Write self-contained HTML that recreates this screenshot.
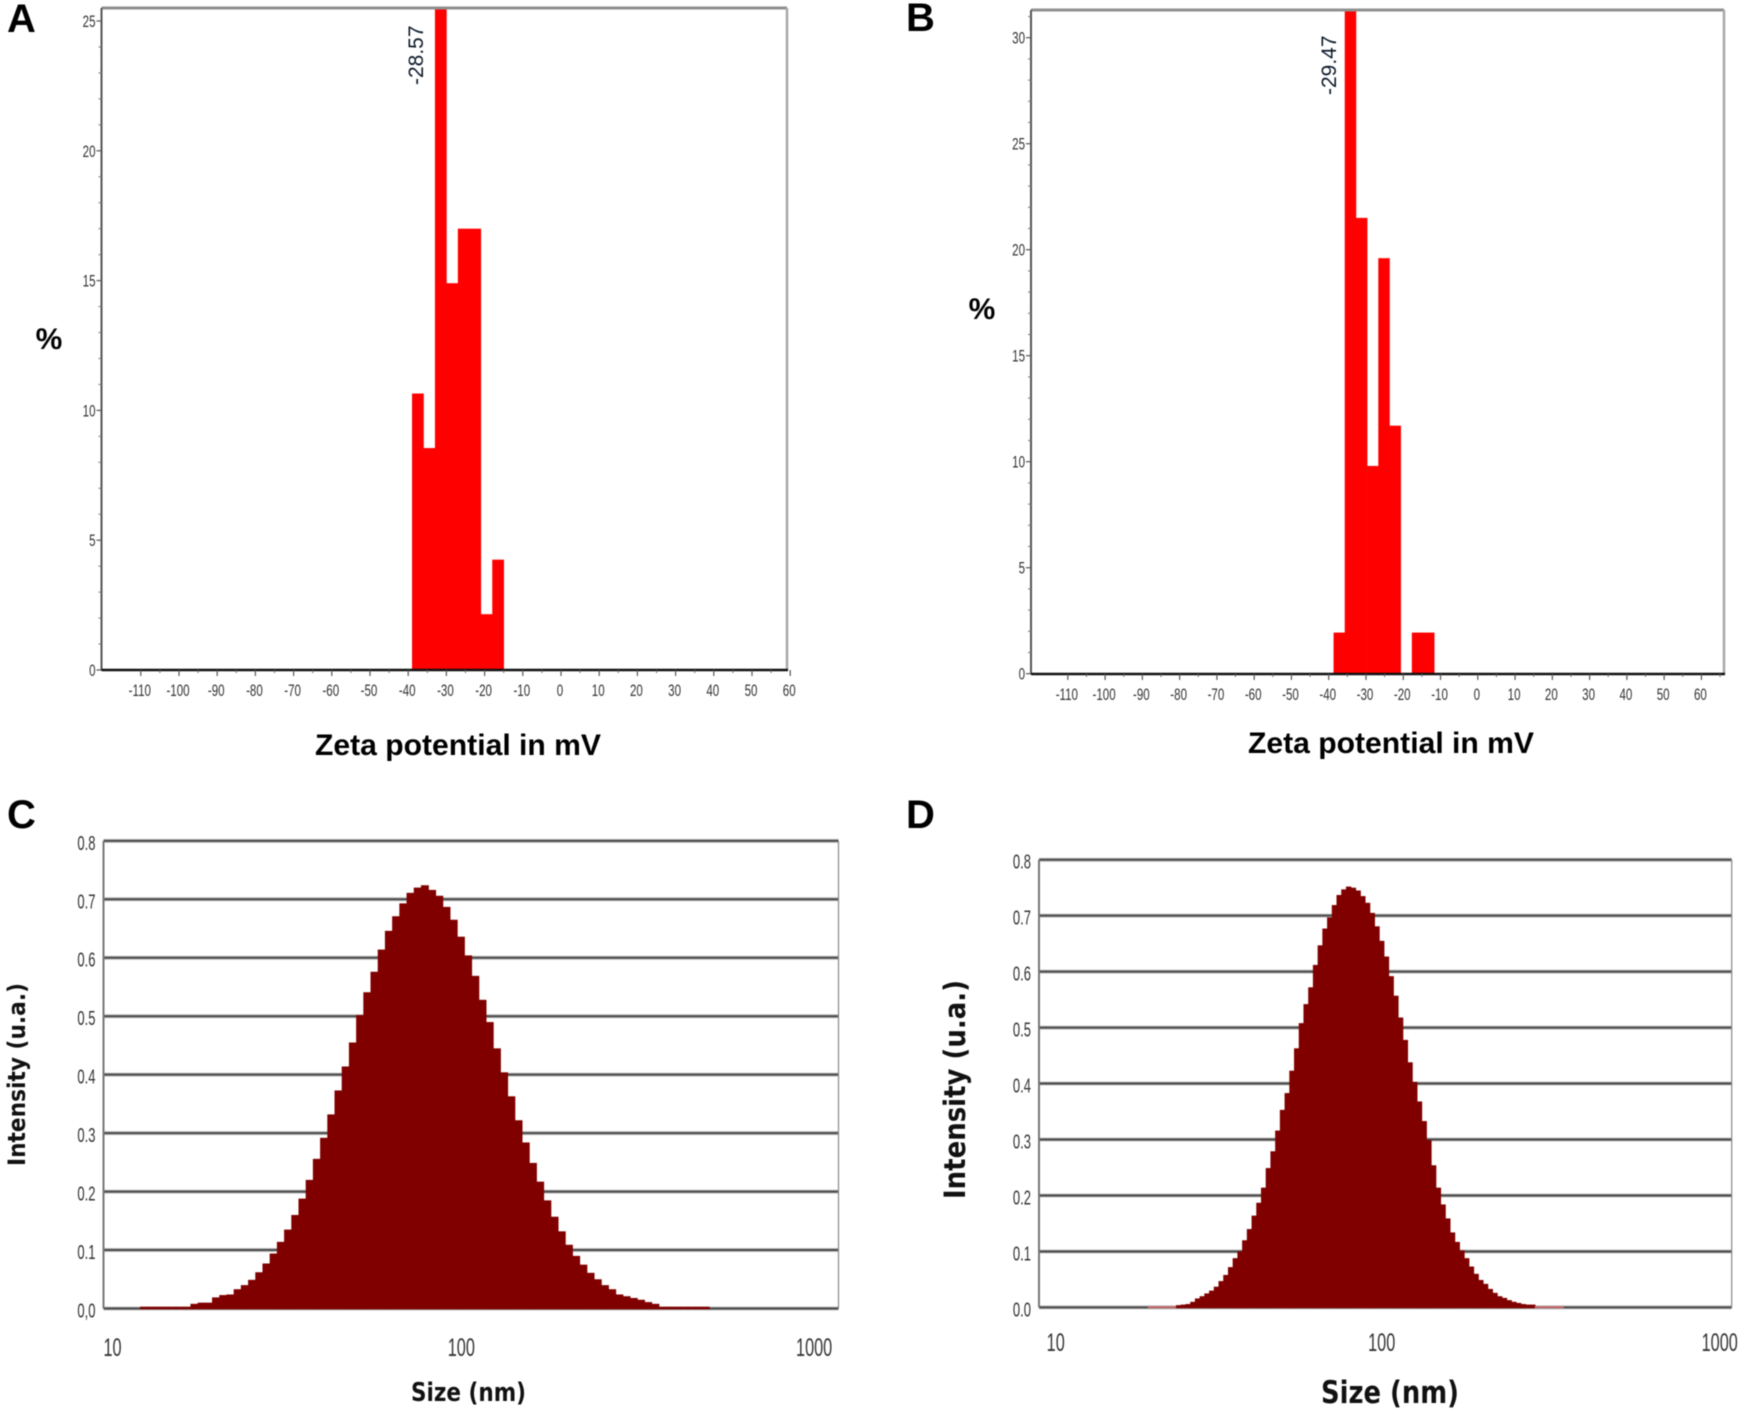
<!DOCTYPE html>
<html lang="en">
<head>
<meta charset="utf-8">
<title>Zeta potential and size distributions</title>
<style>
html,body{margin:0;padding:0;background:#fff;}
#figure{display:block;width:1745px;height:1415px;filter:blur(0.6px);}
text{font-family:"Liberation Sans",sans-serif;}
.panel{font-weight:bold;font-size:40px;fill:#000;}
.title{font-weight:bold;font-size:30px;fill:#000;}
.wide{font-family:"DejaVu Sans","Liberation Sans",sans-serif;font-weight:bold;fill:#111;}
.peak{font-size:21px;fill:#0c1a2a;}
</style>
</head>
<body>
<svg id="figure" xmlns="http://www.w3.org/2000/svg" width="1745" height="1415" viewBox="0 0 1745 1415">
<rect x="0" y="0" width="1745" height="1415" fill="#fff"/>
<g id="chartA"></g>
<g id="chartB"></g>
<g id="chartC"></g>
<g id="chartD"></g>

<text class="panel" x="7" y="32">A</text>
<text class="panel" x="906" y="31">B</text>
<text class="panel" x="7" y="828">C</text>
<text class="panel" x="906" y="828">D</text>

<text class="title" x="315" y="755" textLength="286" lengthAdjust="spacingAndGlyphs">Zeta potential in mV</text>
<text class="title" x="1248" y="753" textLength="286" lengthAdjust="spacingAndGlyphs">Zeta potential in mV</text>
<text class="title" x="49" y="349" text-anchor="middle">%</text>
<text class="title" x="982" y="319" text-anchor="middle">%</text>

<text class="peak" transform="translate(423,85) rotate(-90)">-28.57</text>
<text class="peak" transform="translate(1336,95) rotate(-90)">-29.47</text>

<text class="wide" font-size="24" transform="translate(25,1166) rotate(-90)" textLength="183" lengthAdjust="spacingAndGlyphs">Intensity (u.a.)</text>
<text class="wide" font-size="29" transform="translate(965,1199) rotate(-90)" textLength="219" lengthAdjust="spacingAndGlyphs">Intensity (u.a.)</text>
<text class="wide" font-size="26" x="411" y="1401" textLength="115" lengthAdjust="spacingAndGlyphs">Size (nm)</text>
<text class="wide" font-size="31" x="1321" y="1403" textLength="138" lengthAdjust="spacingAndGlyphs">Size (nm)</text>
</svg>

<script>
const zetaTicks = [-110,-100,-90,-80,-70,-60,-50,-40,-30,-20,-10,0,10,20,30,40,50,60];
const percentTicksA = [0,5,10,15,20,25];
const percentTicksB = [0,5,10,15,20,25,30];
const binStartsA = [-39,-36,-33,-30,-27,-24,-21,-18];
const percentValuesA = [10.65,8.55,26,14.9,17,17,2.15,4.25];
const binStartsB = [-38.7,-35.7,-32.7,-29.7,-26.7,-23.7,-20.7,-17.7,-14.7];
const percentValuesB = [1.94,32,21.5,9.8,19.6,11.7,0,1.94,1.94];

const intensityTicks = [0,0.1,0.2,0.3,0.4,0.5,0.6,0.7,0.8];
const intensityTickLabelsC = ['0,0','0.1','0.2','0.3','0.4','0.5','0.6','0.7','0.8'];
const intensityTickLabelsD = ['0.0','0.1','0.2','0.3','0.4','0.5','0.6','0.7','0.8'];
const sizeTicks = [10,100,1000];
const sizeTickLabels = ['10','100','1000'];
const intensityValuesC = [
  0.003,0.003,0.003,0.003,0.003,0.003,0.003,
  0.008,0.01,0.01,0.019,0.023,0.024,0.033,0.04,0.049,0.062,0.077,0.094,0.114,0.135,0.16,0.188,
  0.22,0.256,0.292,0.332,0.373,0.414,0.455,0.502,0.541,0.576,0.614,0.646,0.671,0.693,0.711,0.72,
  0.724,0.716,0.706,0.687,0.665,0.636,0.604,0.569,0.528,0.49,0.445,0.404,0.363,0.322,0.284,0.249,
  0.217,0.185,0.157,0.132,0.109,0.09,0.075,0.061,0.05,0.04,0.033,0.024,0.021,0.018,0.015,0.011,0.008,
  0.003,0.003,0.003,0.003,0.003,0.003,0.003
];
const intensityValuesD = [
  0.002,0.002,0.002,0.002,0.002,0.002,
  0.004,0.005,0.006,0.01,0.016,0.02,0.025,0.03,0.037,0.047,0.058,0.072,0.088,0.1,
  0.12,0.14,0.164,0.187,0.214,0.249,0.279,0.316,0.353,0.383,0.423,0.463,0.508,0.542,0.572,0.612,
  0.647,0.677,0.697,0.719,0.737,0.747,0.752,0.75,0.745,0.735,0.723,0.705,0.681,0.655,0.627,0.592,
  0.557,0.518,0.478,0.438,0.403,0.368,0.333,0.299,0.254,0.214,0.184,0.159,0.134,0.117,0.102,0.088,
  0.073,0.06,0.049,0.042,0.033,0.026,0.02,0.017,0.013,0.01,0.008,0.006,0.005,0.005,
  0.002,0.002,0.002,0.002,0.002,0.002
];
const firstBinNmC = 11.98;
const binsPerDecadeC = 48.7;
const firstBinNmD = 18.93;
const binsPerDecadeD = 70.34;
const zetaBinWidth = 3;

const SVGNS = 'http://www.w3.org/2000/svg';
function make(parent, tag, attrs, content) {
  const el = document.createElementNS(SVGNS, tag);
  for (const k in attrs) el.setAttribute(k, attrs[k]);
  if (content !== undefined) el.textContent = content;
  parent.appendChild(el);
  return el;
}
function tickLabel(parent, x, y, str, size, sx, anchor) {
  return make(parent, 'text', {
    transform: 'translate(' + x + ',' + y + ') scale(' + sx + ',1)',
    'font-size': size, fill: '#333', 'text-anchor': anchor
  }, str);
}

function drawZeta(root, box, xOf, yOf, ticks, bins, values, clipId) {
  const defs = make(root, 'defs', {});
  const clip = make(defs, 'clipPath', {id: clipId});
  make(clip, 'rect', {x: box.l, y: box.t, width: box.r - box.l, height: box.b - box.t});

  const plot = make(root, 'g', {'clip-path': 'url(#' + clipId + ')'});
  
  
  bins.forEach(function (start, i) {
    const x0 = xOf(start), x1 = xOf(start + zetaBinWidth), yTop = yOf(values[i]);
    const bar = make(plot, 'rect', {x: x0, y: yTop, width: x1 - x0 + 0.3, height: Math.max(0, box.b - yTop), fill: '#ff0000'});
    
    
  });

  const top = make(root, 'line', {x1: box.l, x2: box.r, y1: box.t, y2: box.t, stroke: '#8f8f8f', 'stroke-width': 3});
  
  
  const right = make(root, 'line', {x1: box.r, x2: box.r, y1: box.t, y2: box.b, stroke: '#a8a8a8', 'stroke-width': 2.5});
  
  
  const left = make(root, 'line', {x1: box.l, x2: box.l, y1: box.t, y2: box.b, stroke: '#555', 'stroke-width': 2});
  
  
  const bottom = make(root, 'line', {x1: box.l, x2: box.r + 1, y1: box.b, y2: box.b, stroke: '#111', 'stroke-width': 2.6});
  
  

  ticks.forEach(function (t) {
    const x = xOf(t);
    const mark = make(root, 'line', {x1: x, x2: x, y1: box.b, y2: box.b + 6, stroke: '#555', 'stroke-width': 1.2});
    
    
    const minorX = xOf(t + 5);
    if (minorX < box.r) {
      const minor = make(root, 'line', {x1: minorX, x2: minorX, y1: box.b, y2: box.b + 3, stroke: '#666', 'stroke-width': 1});
      
      
    }
    const lab = tickLabel(root, x - 1, box.b + 26, String(t), 17, 0.68, 'middle');
    
    
  });
}

function drawPercentAxis(root, box, yOf, ticks) {
  ticks.forEach(function (t) {
    const y = yOf(t);
    const mark = make(root, 'line', {x1: box.l - 5, x2: box.l, y1: y, y2: y, stroke: '#555', 'stroke-width': 1.2});
    
    
    for (let m = 1; m < 5; m++) {
      const my = yOf(t + m);
      if (my > box.t) {
        const minor = make(root, 'line', {x1: box.l - 3, x2: box.l, y1: my, y2: my, stroke: '#777', 'stroke-width': 1});
        
        
      }
    }
    const lab = tickLabel(root, box.l - 6, y + 6, String(t), 17, 0.68, 'end');
    
    
  });
}

function drawSize(root, box, xOf, yOf, yTickLabels, values, firstBinNm, binsPerDecade, labelShift) {
  intensityTicks.forEach(function (t, i) {
    const y = yOf(t);
    const halo = make(root, 'line', {x1: box.l, x2: box.r, y1: y, y2: y, stroke: '#bdbdbd', 'stroke-width': 4});
    
    
    const grid = make(root, 'line', {x1: box.l, x2: box.r, y1: y, y2: y, stroke: '#4a4a4a', 'stroke-width': 2});
    
    
    const lab = tickLabel(root, box.l - 8, y + 9, yTickLabels[i], 20, 0.65, 'end');
    
    
  });
  const left = make(root, 'line', {x1: box.l, x2: box.l, y1: box.t, y2: box.b, stroke: '#777', 'stroke-width': 2});
  
  
  const right = make(root, 'line', {x1: box.r, x2: box.r, y1: box.t, y2: box.b, stroke: '#888', 'stroke-width': 1.2});
  
  

  const group = make(root, 'g', {});
  
  
  values.forEach(function (v, i) {
    const s0 = firstBinNm * Math.pow(10, i / binsPerDecade);
    const s1 = firstBinNm * Math.pow(10, (i + 1) / binsPerDecade);
    const x0 = xOf(s0), x1 = xOf(s1), yTop = yOf(v);
    const bar = make(group, 'rect', {x: x0, y: yTop, width: x1 - x0 + 0.7, height: yOf(0) - yTop + 0.8, fill: v < 0.0025 ? '#c8686a' : '#800000'});
    
    
  });

  sizeTicks.forEach(function (t, i) {
    const lab = tickLabel(root, xOf(t) + labelShift[i], box.labelY, sizeTickLabels[i], 25, 0.65, 'middle');
    
    
  });
}

const boxA = {l: 101.5, r: 787, t: 8, b: 670};
const xA = function (v) { return 561 + 3.82 * v; };
const yA = function (v) { return 670 - 25.96 * v; };
drawZeta(document.getElementById('chartA'), boxA, xA, yA, zetaTicks, binStartsA, percentValuesA, 'clipA');
drawPercentAxis(document.getElementById('chartA'), boxA, yA, percentTicksA);

const boxB = {l: 1031, r: 1724, t: 10, b: 674};
const xB = function (v) { return 1477.8 + 3.727 * v; };
const yB = function (v) { return 673.7 - 21.2 * v; };
drawZeta(document.getElementById('chartB'), boxB, xB, yB, zetaTicks, binStartsB, percentValuesB, 'clipB');
drawPercentAxis(document.getElementById('chartB'), boxB, yB, percentTicksB);

const boxC = {l: 103.5, r: 838.5, t: 841, b: 1308.5, labelY: 1356};
const xC = function (s) { return 112.5 + 350.8 * Math.log10(s / 10); };
const yC = function (v) { return 1308.5 - 584.6 * v; };
drawSize(document.getElementById('chartC'), boxC, xC, yC, intensityTickLabelsC, intensityValuesC, firstBinNmC, binsPerDecadeC, [0, -2, 0]);

const boxD = {l: 1039, r: 1731.7, t: 859.7, b: 1307.4, labelY: 1351};
const xD = function (s) { return 1055.7 + 332 * Math.log10(s / 10); };
const yD = function (v) { return 1307.4 - 559.6 * v; };
drawSize(document.getElementById('chartD'), boxD, xD, yD, intensityTickLabelsD, intensityValuesD, firstBinNmD, binsPerDecadeD, [0, -6, 0]);
</script>
</body>
</html>
